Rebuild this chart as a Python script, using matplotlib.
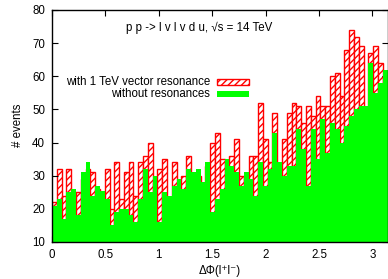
import numpy as np
import matplotlib
matplotlib.use("Agg")
import matplotlib.pyplot as plt
from matplotlib.patches import Rectangle

plt.rcParams['font.family'] = ['Liberation Sans', 'DejaVu Sans']
plt.rcParams['hatch.linewidth'] = 1.0

# 70 bins of delta-phi between 0 and pi
n_bins = 70
phi_min, phi_max = 0.0, np.pi

with_resonance = [22, 32, 24, 32, 25, 25, 29, 32, 31, 26,
                  24, 32, 20, 34, 23, 31, 34, 24, 34, 36,
                  40, 28, 32, 35, 23, 34, 28, 30, 36, 30,
                  30, 27, 33, 40, 43, 35, 34, 36, 41, 30,
                  30, 36, 36, 52, 41, 34, 49, 33, 41, 49,
                  52, 51, 46, 51, 48, 54, 51, 51, 60, 61,
                  54, 68, 74, 72, 69, 50, 67, 69, 64, 60]
without_resonance = [21, 23, 17, 25, 26, 18, 31, 34, 24, 27,
                     25.5, 23, 15, 19, 20, 20, 18, 16, 23, 32,
                     25, 30, 16, 25, 24, 27, 29, 26, 32, 31,
                     32, 28, 34, 19, 23, 26, 35, 33, 31, 27,
                     31, 29, 24, 34, 27, 32, 43, 34, 30, 33,
                     33, 44, 38, 27, 44, 35, 47, 37, 46, 44,
                     40, 45, 48, 50, 51, 51, 64, 55, 58, 62]

label_res = "with 1 TeV vector resonance"
label_nores = "without resonances"
title_text = "p p -> l v l v d u, \u221as = 14 TeV"
xlabel = "\u0394\u03a6(l\u207al\u207b)"
ylabel = "# events"
xticks = [0, 0.5, 1, 1.5, 2, 2.5, 3]
xticklabels = ["0", "0.5", "1", "1.5", "2", "2.5", "3"]
yticks = [10, 20, 30, 40, 50, 60, 70, 80]

edges = np.linspace(phi_min, phi_max, n_bins + 1)
width = edges[1] - edges[0]

fs = 8.3
fig = plt.figure(figsize=(3.88, 2.79), dpi=100)
ax = fig.add_axes([52/388, 1-242/279, 335.5/388, 232/279])

red = '#ff0000'
green = '#00ff00'
ax.bar(edges[:-1], with_resonance, width=width, align='edge', bottom=0,
       facecolor='white', edgecolor=red, hatch='/////', linewidth=1.0, zorder=1)
ax.stairs(without_resonance, edges, fill=True, color=green, baseline=0, zorder=2)

ax.set_xlim(phi_min, phi_max)
ax.set_ylim(10, 80)
ax.set_xticks(xticks)
ax.set_xticklabels(xticklabels)
ax.set_yticks(yticks)
ax.tick_params(direction='in', top=True, right=True, length=4, width=0.8,
               labelsize=fs, pad=5)
for s in ax.spines.values():
    s.set_linewidth(1.0)
    s.set_zorder(5)

fig.text(220/388, 1-271/279, xlabel, ha='center', va='center', fontsize=fs)
fig.text(18/388, 1-125/279, ylabel, rotation=90, ha='center', va='center', fontsize=fs)

ax.text(0.438, 0.922, title_text, transform=ax.transAxes, ha='center', va='center', fontsize=fs)

# legend (gnuplot style: text then sample box)
ax.text(0.471, 0.690, label_res, transform=ax.transAxes, ha='right', va='center', fontsize=fs, zorder=6)
ax.text(0.471, 0.638, label_nores, transform=ax.transAxes, ha='right', va='center', fontsize=fs, zorder=6)
ax.add_patch(Rectangle((0.492, 0.677), 0.095, 0.026, transform=ax.transAxes,
                       facecolor='white', edgecolor=red, hatch='/////', linewidth=1.0, zorder=6))
ax.add_patch(Rectangle((0.492, 0.625), 0.095, 0.026, transform=ax.transAxes,
                       facecolor=green, edgecolor='none', zorder=6))

fig.savefig("out.png", dpi=100)
